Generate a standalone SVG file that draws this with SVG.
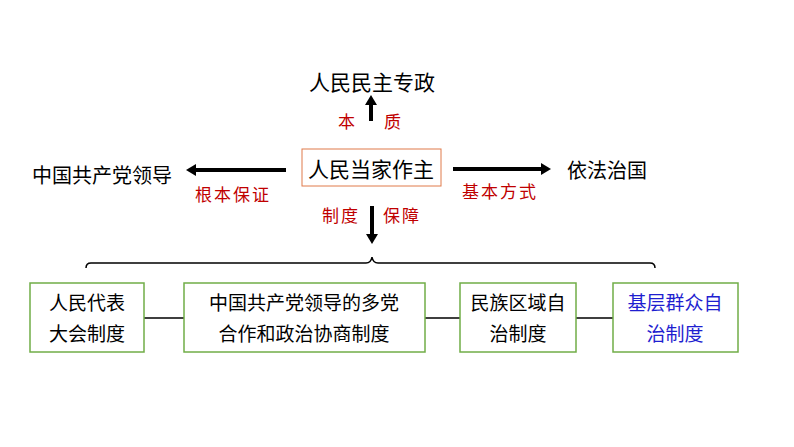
<svg xmlns="http://www.w3.org/2000/svg" width="794" height="447" viewBox="0 0 794 447">
<defs>
<style>
.t{font-family:"Noto Sans CJK SC","Noto Sans",sans-serif;fill:#000}
.r{font-family:"Noto Sans CJK SC",sans-serif;fill:#c00000;font-size:17px;letter-spacing:2px}
.b{fill:#fff;stroke:#70ad47;stroke-width:1.5}
.a{stroke:#000;stroke-width:4;fill:none}
</style>
<marker id="h" markerWidth="3" markerHeight="3" refX="1" refY="1.5" orient="auto" markerUnits="strokeWidth"><path d="M0,0L2.5,1.5L0,3z" fill="#000"/></marker>
</defs>
<rect width="794" height="447" fill="#fff"/>
<g id="connectors">
<path class="a" d="M371,121V101" marker-end="url(#h)"/>
<path class="a" d="M286,170H192" marker-end="url(#h)"/>
<path class="a" d="M453,169H545" marker-end="url(#h)"/>
<path class="a" d="M372,206V238" marker-end="url(#h)"/>
<path d="M86,268Q86,263 91,263H366Q371,263 372,257Q373,263 378,263H650Q655,263 655,268" fill="none" stroke="#000" stroke-width="1.5"/>
<path d="M144,318H184M425,318H460M576,318H613" stroke="#000" stroke-width="1.5"/>
<text class="r" x="338" y="128">本</text><text class="r" x="384" y="128">质</text>
<text class="r" x="195" y="201">根本保证</text>
<text class="r" x="462" y="198">基本方式</text>
<text class="r" x="322" y="222">制度</text><text class="r" x="383" y="222">保障</text>
</g>
<g id="top"><text class="t" x="372" y="90" font-size="21" text-anchor="middle">人民民主专政</text></g>
<g id="center"><rect x="302" y="149" width="139" height="37" fill="#fff" stroke="#e07a4a" stroke-width="1"/><text class="t" x="371" y="177" font-size="21" text-anchor="middle">人民当家作主</text></g>
<g id="left"><text class="t" x="102" y="183" font-size="20" text-anchor="middle">中国共产党领导</text></g>
<g id="right"><text class="t" x="607" y="178" font-size="20" text-anchor="middle">依法治国</text></g>
<g id="n1"><rect class="b" x="30" y="283" width="114" height="69"/><text class="t" x="87" y="310" font-size="19" text-anchor="middle">人民代表</text><text class="t" x="87" y="341" font-size="19" text-anchor="middle">大会制度</text></g>
<g id="n2"><rect class="b" x="184" y="283" width="241" height="69"/><text class="t" x="304" y="310" font-size="19" text-anchor="middle">中国共产党领导的多党</text><text class="t" x="304" y="341" font-size="19" text-anchor="middle">合作和政治协商制度</text></g>
<g id="n3"><rect class="b" x="460" y="283" width="116" height="69"/><text class="t" x="518" y="310" font-size="19" text-anchor="middle">民族区域自</text><text class="t" x="518" y="341" font-size="19" text-anchor="middle">治制度</text></g>
<g id="n4"><rect class="b" x="613" y="283" width="125" height="69"/><text class="t" x="675" y="310" font-size="19" text-anchor="middle" style="fill:#1f1fd0">基层群众自</text><text class="t" x="675" y="341" font-size="19" text-anchor="middle" style="fill:#1f1fd0">治制度</text></g>
</svg>
